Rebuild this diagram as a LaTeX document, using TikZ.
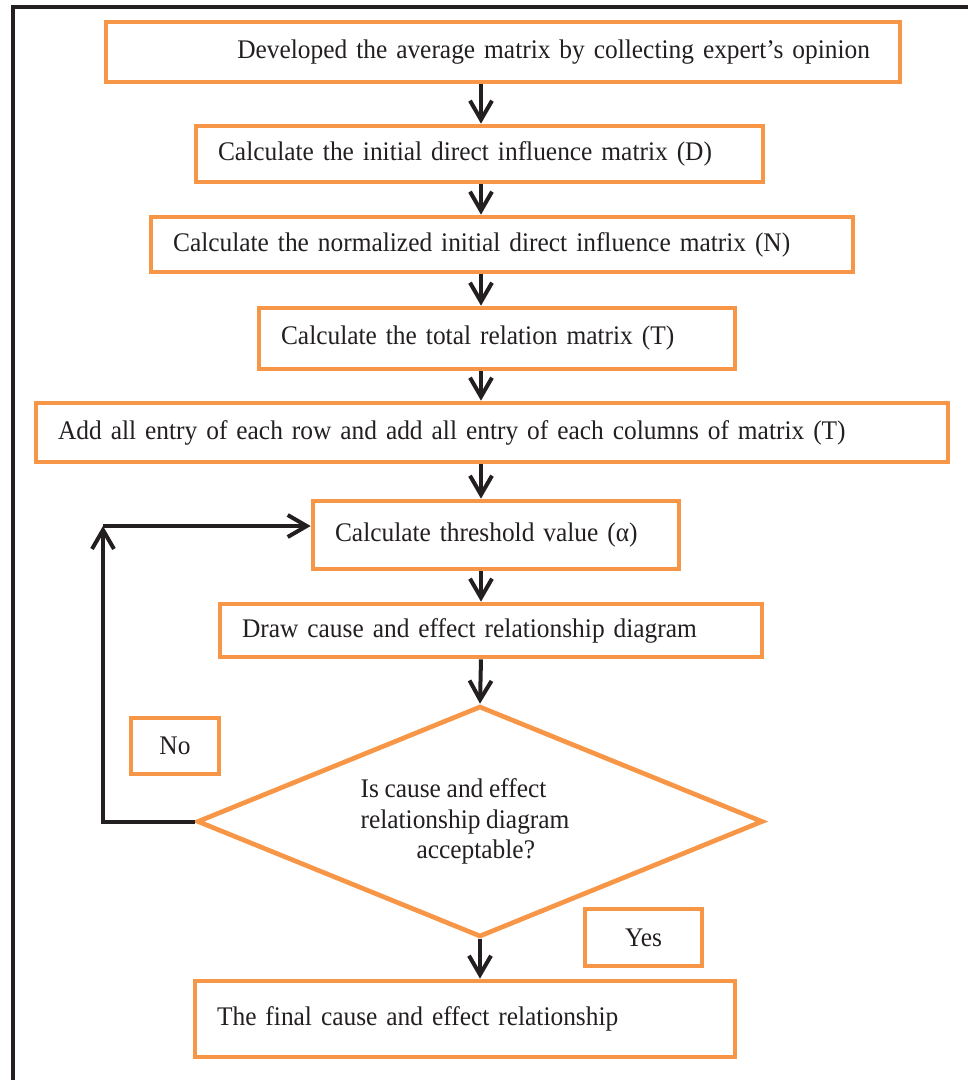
\documentclass[tikz,border=0pt]{standalone}
\usepackage{fontspec}
\setmainfont{Liberation Serif}[FakeStretch=0.945,WordSpace=0.9]
\usetikzlibrary{arrows.meta,shapes.geometric}
\definecolor{boxorange}{HTML}{F79646}
\definecolor{inkblack}{HTML}{231F20}
\begin{document}
\begin{tikzpicture}[x=0.02cm,y=-0.02cm,
        >={Straight Barb[length=3.8mm,width=4.4mm]},
        every node/.style={font=\fontsize{15.3}{17.5}\selectfont,text=inkblack},
        stepbox/.style={draw=boxorange,line width=0.094cm,inner xsep=0.44cm,inner ysep=0pt,align=left},
        flow/.style={->,line width=0.08cm,draw=inkblack}]
        \useasboundingbox (0,0) rectangle (968,1080);
        \draw[line width=0.08cm,inkblack] (13,1080) -- (13,7) -- (968,7);

        \node[stepbox,text width=14.68cm,minimum height=1.2cm,inner xsep=0.6cm,align=right] (b1) at (503,52) {Developed the average matrix by collecting expert’s opinion};
        \node[stepbox,text width=10.46cm,minimum height=1.12cm] (b2) at (479.5,154) {Calculate the initial direct influence matrix (D)};
        \node[stepbox,text width=13.16cm,minimum height=1.1cm] (b3) at (502,244.5) {Calculate the normalized initial direct influence matrix (N)};
        \node[stepbox,text width=8.64cm,minimum height=1.22cm] (b4) at (497,338.5) {Calculate the total relation matrix (T)};
        \node[stepbox,text width=17.36cm,minimum height=1.18cm] (b5) at (492,432.5) {Add all entry of each row and add all entry of each columns of matrix (T)};
        \node[stepbox,text width=6.44cm,minimum height=1.36cm] (b6) at (496,535) {Calculate threshold value (α)};
        \node[stepbox,text width=9.96cm,minimum height=1.06cm] (b7) at (491,630.5) {Draw cause and effect relationship diagram};

        \node[draw=boxorange,line width=0.094cm,diamond,aspect=2.45,minimum width=11.32cm,minimum height=4.62cm,inner sep=0pt,align=left] (dec) at (480,821.5) {Is cause and effect\\\mbox{relationship diagram\hspace{0.6cm}}\\\hspace*{1.12cm}acceptable?};

        \node[stepbox,minimum width=1.76cm,minimum height=1.12cm,inner xsep=0pt,align=center] (no) at (175,746) {No};
        \node[stepbox,minimum width=2.34cm,minimum height=1.14cm,inner xsep=0pt,align=center] (yes) at (643.5,937.5) {Yes};
        \node[stepbox,text width=9.92cm,minimum height=1.52cm] (final) at (465,1019) {The final cause and effect relationship};

        \coordinate (spine) at (481,0);
        \coordinate (loop) at (103,526);

        \foreach \a/\b in {b1/b2,b2/b3,b3/b4,b4/b5,b5/b6,b6/b7} {
                \draw[flow] (\a.south -| spine) -- (\b.north -| spine);
            }
        \draw[flow] (b7.south -| spine) -- (dec.north);
        \draw[flow] (dec.south) -- (final.north -| dec.south);
        \draw[flow] (dec.west) -| (loop);
        \draw[flow] (loop) -- (loop -| b6.west);
    \end{tikzpicture}
\end{document}
